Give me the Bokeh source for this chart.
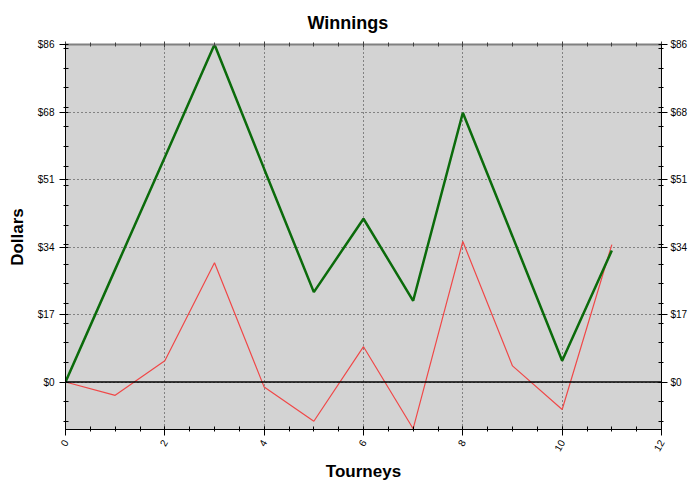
import math
from bokeh.plotting import figure
from bokeh.models import LinearAxis, FixedTicker, Span, Range1d
from bokeh.embed import file_html
from bokeh.resources import INLINE

# ---- data ----
tourneys = [0, 1, 2, 3, 4, 5, 6, 7, 8, 9, 10, 11]
green_values = [0, 28.7, 57.3, 86.0, 54.3, 22.9, 41.6, 20.7, 68.6, 37.1, 5.4, 33.5]
red_values = [0, -3.4, 5.4, 30.4, -1.3, -10.0, 9.0, -11.9, 35.8, 4.1, -7.0, 35.0]

x_tick_values = [0, 2, 4, 6, 8, 10, 12]
x_tick_labels = ["0", "2", "4", "6", "8", "10", "12"]
y_tick_values = [0, 17.2, 34.4, 51.6, 68.8, 86]
y_tick_labels = ["$0", "$17", "$34", "$51", "$68", "$86"]

FONT = "Liberation Sans"

x_minor = [i * 0.5 for i in range(25)]
y_minor = list(range(-10, 90, 5))

p = figure(width=700, height=487,
           x_range=Range1d(0, 12), y_range=Range1d(-12.1, 86),
           output_backend="svg", toolbar_location=None, title="Winnings",
           background_fill_color="#d3d3d3", border_fill_color="white",
           min_border_left=65, min_border_right=39, min_border_top=44,
           min_border_bottom=58)
p.outline_line_color = None

p.title.align = "left"
p.title.offset = 242
p.title.standoff = 17
p.title.text_font = FONT
p.title.text_font_size = "18px"
p.title.text_font_style = "bold"
p.title.text_color = "black"

def style_axis(ax):
    ax.major_label_text_font = FONT
    ax.major_label_text_font_size = "10px"
    ax.major_label_text_color = "black"
    ax.axis_line_color = "black"
    ax.major_tick_line_color = "black"
    ax.minor_tick_line_color = "black"
    ax.major_tick_in = 3
    ax.major_tick_out = 6
    ax.minor_tick_in = 3
    ax.minor_tick_out = 2
    ax.axis_label_text_font = FONT
    ax.axis_label_text_font_size = "17px"
    ax.axis_label_text_font_style = "bold"
    ax.axis_label_text_color = "black"

# bottom axis
xax = p.xaxis[0]
xax.ticker = FixedTicker(ticks=x_tick_values, minor_ticks=x_minor)
xax.major_label_overrides = dict(zip(x_tick_values, x_tick_labels))
style_axis(xax)
xax.major_label_orientation = math.radians(60)
xax.axis_label = "Tourneys"
xax.axis_label_standoff = 5

# left axis
yax = p.yaxis[0]
yax.ticker = FixedTicker(ticks=y_tick_values, minor_ticks=y_minor)
yax.major_label_overrides = dict(zip(y_tick_values, y_tick_labels))
style_axis(yax)
yax.axis_label = "Dollars"
yax.axis_label_standoff = 8

# right axis
rax = LinearAxis(ticker=FixedTicker(ticks=y_tick_values, minor_ticks=y_minor))
rax.major_label_overrides = dict(zip(y_tick_values, y_tick_labels))
style_axis(rax)
rax.major_label_standoff = 3
p.add_layout(rax, "right")

# top axis (ticks only, no labels drawn)
tax = LinearAxis(ticker=FixedTicker(ticks=x_tick_values, minor_ticks=x_minor))
style_axis(tax)
tax.major_label_text_color = None
tax.axis_line_color = "#808080"
tax.axis_line_width = 2
tax.major_tick_line_color = "#404040"
tax.minor_tick_line_color = "#404040"
tax.major_tick_in = 3
tax.major_tick_out = 3
tax.minor_tick_in = 2
tax.minor_tick_out = 2
p.add_layout(tax, "above")

# grids
p.xgrid.ticker = FixedTicker(ticks=x_tick_values)
p.ygrid.ticker = FixedTicker(ticks=y_tick_values)
for g in (p.xgrid[0], p.ygrid[0]):
    g.grid_line_color = "#303030"
    g.grid_line_dash = "1 3"
    g.grid_line_width = 1

p.add_layout(Span(location=0, dimension="width", line_color="black", line_width=1.5))

p.line(tourneys, red_values, line_color="#f04848", line_width=1.2)
p.line(tourneys, green_values, line_color="#0b6b0b", line_width=2.5)

open("out.html", "w").write(file_html(p, INLINE))
